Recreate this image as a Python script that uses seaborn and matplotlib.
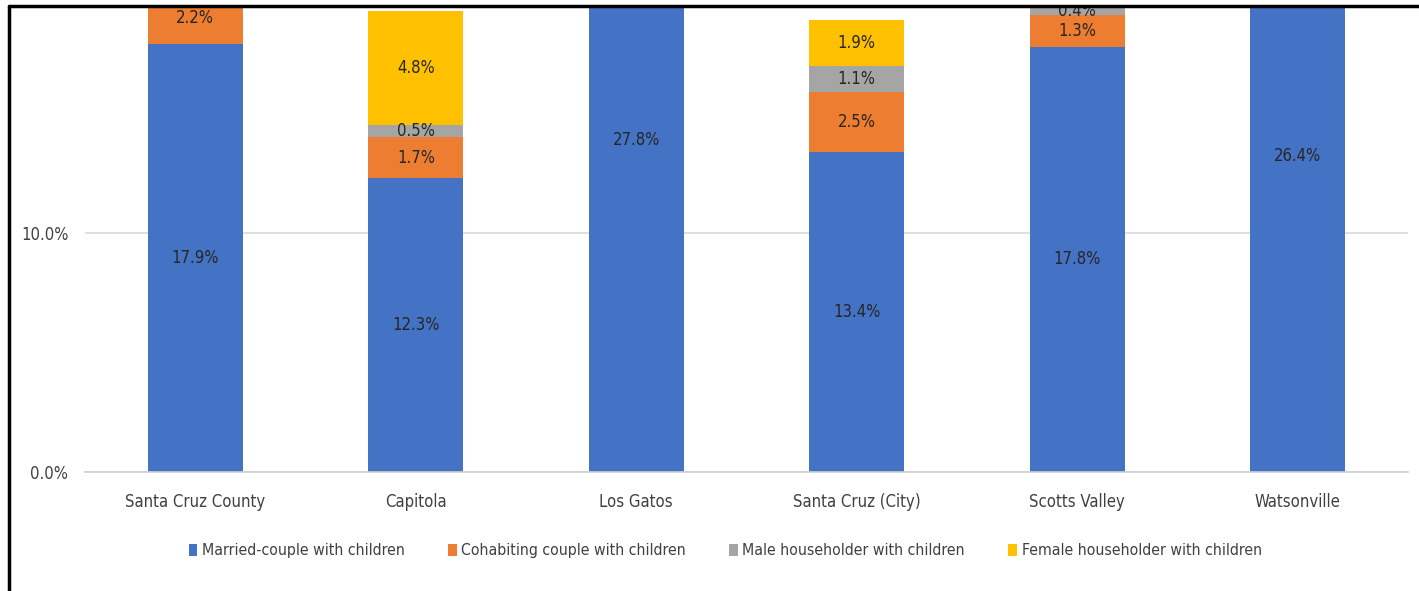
import numpy as np
import pandas as pd
import matplotlib.pyplot as plt
import seaborn as sns
from matplotlib.lines import Line2D
from matplotlib.patches import Patch
from matplotlib.ticker import PercentFormatter

# === data (percent of households) ===
places = ['Santa Cruz County', 'Capitola', 'Los Gatos', 'Santa Cruz (City)', 'Scotts Valley', 'Watsonville']
married = [17.9, 12.3, 27.8, 13.4, 17.8, 26.4]
cohabiting = [2.2, 1.7, 0.9, 2.5, 1.3, 2.4]
male = [0.9, 0.5, 0.6, 1.1, 0.4, 1.8]
female = [3.6, 4.8, 2.1, 1.9, 2.3, 5.7]

series = ['Married-couple with children', 'Cohabiting couple with children',
          'Male householder with children', 'Female householder with children']
colors = ['#4472C4', '#ED7D31', '#A5A5A5', '#FFC000']

df = pd.DataFrame({'place': places, series[0]: married, series[1]: cohabiting,
                   series[2]: male, series[3]: female})
tops = df[series].cumsum(axis=1)
bottoms = tops - df[series]

y_top = 19.41  # the screenshot cuts the chart off here

sns.set_style('white')
plt.rcParams['font.family'] = ['DejaVu Sans']
plt.rcParams['font.stretch'] = 'condensed'

fig = plt.figure(figsize=(14.19, 5.91), dpi=100)
ax = fig.add_axes([0.060, 0.2014, 0.9322, 0.785])

# stacked bars: draw cumulative totals from the top segment down
for name, color in reversed(list(zip(series, colors))):
    sns.barplot(x=df['place'], y=tops[name], color=color, width=0.43,
                saturation=1, ax=ax, zorder=2, linewidth=0)

# segment labels (only those that are at least partly inside the crop)
for name in series:
    for i in range(len(places)):
        val = df[name][i]
        mid = bottoms[name][i] + val / 2
        if mid > y_top:
            continue
        ax.text(i, mid, f'{val:.1f}%', ha='center', va='center', fontsize=12,
                color='#262626', clip_on=True, zorder=3)

ax.set_yticks([0, 10])
ax.set_ylim(0, y_top)
ax.yaxis.set_major_formatter(PercentFormatter(100, decimals=1))
ax.set_xlabel('')
ax.set_ylabel('')
ax.grid(axis='y', color='#D9D9D9', linewidth=1.2, zorder=0)
ax.set_axisbelow(True)
for s in ['top', 'right', 'left']:
    ax.spines[s].set_visible(False)
ax.spines['bottom'].set_color('#D0D0D0')
ax.spines['bottom'].set_linewidth(1.2)
ax.tick_params(axis='x', length=0, pad=15, labelsize=12, labelcolor='#404040')
ax.tick_params(axis='y', length=0, pad=12, labelsize=12, labelcolor='#404040')

handles = [Patch(facecolor=c, edgecolor='none') for c in colors]
fig.legend(handles, series, loc='center', bbox_to_anchor=(0.511, 0.068), ncol=4,
           frameon=False, fontsize=11.3, handlelength=0.55, handleheight=0.8,
           handletextpad=0.3, columnspacing=2.75, labelcolor='#404040')

# screenshot frame
fig.add_artist(Line2D([0.0063, 1.0], [0.9898, 0.9898], color='black', linewidth=2.5,
                      transform=fig.transFigure))
fig.add_artist(Line2D([0.0063, 0.0063], [0.0, 0.9898], color='black', linewidth=2.5,
                      transform=fig.transFigure))

fig.savefig('out.png', dpi=100)
